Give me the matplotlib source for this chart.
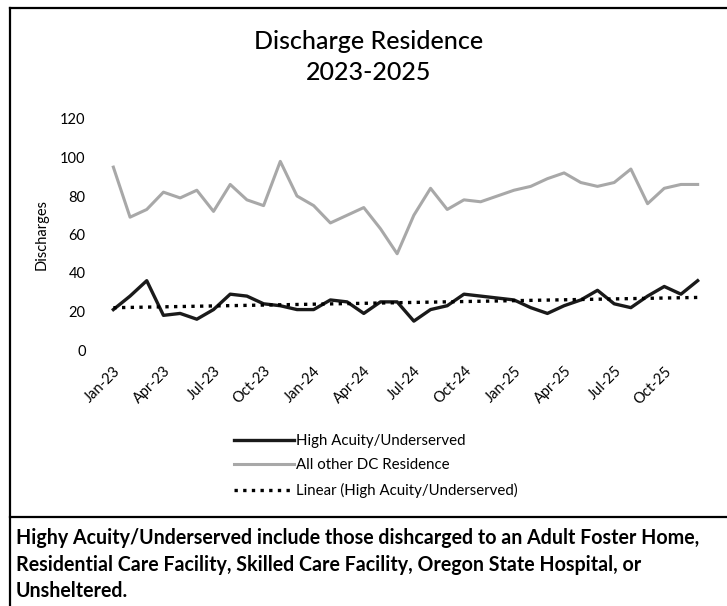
import matplotlib
matplotlib.use("Agg")
import matplotlib.pyplot as plt
import numpy as np
from matplotlib.lines import Line2D

plt.rcParams['font.family'] = ['Lato', 'DejaVu Sans']

# monthly data Jan-23 .. Dec-25
months = ['Jan-23', 'Feb-23', 'Mar-23', 'Apr-23', 'May-23', 'Jun-23',
          'Jul-23', 'Aug-23', 'Sep-23', 'Oct-23', 'Nov-23', 'Dec-23',
          'Jan-24', 'Feb-24', 'Mar-24', 'Apr-24', 'May-24', 'Jun-24',
          'Jul-24', 'Aug-24', 'Sep-24', 'Oct-24', 'Nov-24', 'Dec-24',
          'Jan-25', 'Feb-25', 'Mar-25', 'Apr-25', 'May-25', 'Jun-25',
          'Jul-25', 'Aug-25', 'Sep-25', 'Oct-25', 'Nov-25', 'Dec-25']
high_acuity = [21, 28, 36, 18, 19, 16, 21, 29, 28, 24, 23, 21,
               21, 26, 25, 19, 25, 25, 15, 21, 23, 29, 28, 27,
               26, 22, 19, 23, 26, 31, 24, 22, 28, 33, 29, 36]
all_other = [95, 69, 73, 82, 79, 83, 72, 86, 78, 75, 98, 80,
             75, 66, 70, 74, 63, 50, 70, 84, 73, 78, 77, 80,
             83, 85, 89, 92, 87, 85, 87, 94, 76, 84, 86, 86]

title = 'Discharge Residence\n2023-2025'
note = ('Highy Acuity/Underserved include those dishcarged to an Adult Foster Home,\n'
        'Residential Care Facility, Skilled Care Facility, Oregon State Hospital, or\n'
        'Unsheltered.')

W, H = 727, 606
fig = plt.figure(figsize=(W / 100, H / 100), dpi=100)
ax = fig.add_axes([105 / W, (H - 350) / H, 601 / W, 231 / H])

x = np.arange(len(months))
ax.plot(x, high_acuity, color='#1a1a1a', lw=2.4, label='High Acuity/Underserved')
ax.plot(x, all_other, color='#a8a8a8', lw=2.2, label='All other DC Residence')

# linear trendline, same as excel does it
k, b = np.polyfit(x, high_acuity, 1)
ax.plot(x, k * x + b, color='black', lw=2.4, ls=(0, (1, 1.6)),
        label='Linear (High Acuity/Underserved)')

ax.set_xlim(-0.5, len(months) - 0.5)
ax.set_ylim(0, 120)
ax.set_yticks(range(0, 121, 20))
ax.set_xticks(x[::3])
ax.set_xticklabels(months[::3], rotation=45, ha='right', va='top',
                   rotation_mode='anchor', fontsize=10.5)
ax.tick_params(axis='x', length=0, pad=10)
ax.tick_params(axis='y', length=0, pad=14, labelsize=10.5)
for s in ax.spines.values():
    s.set_visible(False)
ax.set_ylabel('Discharges', fontsize=10.5, labelpad=8)

fig.text(369 / W, (H - 57) / H, title, ha='center', va='center',
         fontsize=18, linespacing=1.4, fontweight='medium')

fig.legend(loc='center left', bbox_to_anchor=(220 / W, (H - 466) / H),
           frameon=False, fontsize=10.8, handlelength=4.0, handletextpad=0.2,
           labelspacing=0.7)

# frame lines of the scanned box
fig.add_artist(Line2D([10 / W, 10 / W], [0, (H - 8) / H], color='black', lw=1.6))
fig.add_artist(Line2D([10 / W, 1], [(H - 8) / H, (H - 8) / H], color='black', lw=1.6))
fig.add_artist(Line2D([10 / W, 1], [(H - 517) / H, (H - 517) / H], color='black', lw=1.6))

fig.text(16 / W, (H - 528) / H, note, ha='left', va='top', fontsize=14.1,
         fontweight='bold', linespacing=1.42)

fig.savefig('out.png', dpi=100)
